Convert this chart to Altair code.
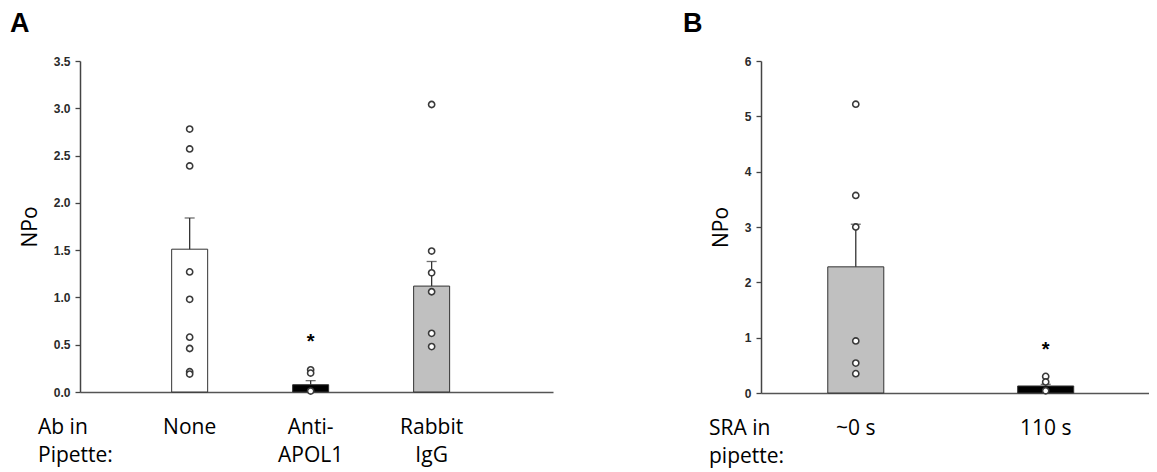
import altair as alt
import pandas as pd

# ---------------- Panel A data ----------------
a_groups = ["None", "Anti-APOL1", "Rabbit IgG"]
a_labels = ["None", "Anti-\nAPOL1", "Rabbit\nIgG"]
a_means = [1.51, 0.077, 1.12]
a_sems = [0.33, 0.043, 0.26]
a_fills = ["#ffffff", "#000000", "#c0c0c0"]
a_pts_none = [2.78, 2.57, 2.39, 1.27, 0.98, 0.58, 0.46, 0.215, 0.19]
a_pts_anti = [0.235, 0.20, 0.01]
a_pts_igg = [3.04, 1.49, 1.26, 1.06, 0.62, 0.48]
a_star_group = ["Anti-APOL1"]
a_star_y = [0.58]
a_yticks = [0.0, 0.5, 1.0, 1.5, 2.0, 2.5, 3.0, 3.5]

# ---------------- Panel B data ----------------
b_groups = ["~0 s", "110 s"]
b_labels = ["~0 s", "110 s"]
b_means = [2.28, 0.127]
b_sems = [0.77, 0.03]
b_fills = ["#c0c0c0", "#000000"]
b_pts_zero = [5.22, 3.57, 3.0, 0.94, 0.54, 0.35]
b_pts_110 = [0.30, 0.20, 0.04]
b_star_group = ["110 s"]
b_star_y = [0.87]
b_yticks = [0, 1, 2, 3, 4, 5, 6]

TEXT_FONT = "Open Sans"


def panel(letter, groups, labels, means, sems, fills, pts, star_group, star_y,
          ydomain, yticks, yfmt, width, height, pi, po, align,
          left_label, left_x, letter_x):
    bars_df = pd.DataFrame({
        "group": groups, "label": labels, "mean": means,
        "upper": [m + s for m, s in zip(means, sems)], "fill": fills})
    pts_df = pd.DataFrame([{"group": g, "mean": v} for g, vals in zip(groups, pts) for v in vals])
    star_df = pd.DataFrame({"group": star_group, "mean": star_y})

    xenc = alt.X("group:N", sort=groups,
                 scale=alt.Scale(domain=groups, paddingInner=pi, paddingOuter=po, align=align),
                 axis=alt.Axis(title=None, labels=False, ticks=False,
                               domainColor="#555", domainWidth=1.5))
    yaxis = alt.Axis(title="NPo", values=yticks, format=yfmt, grid=False,
                     titlePadding=13)
    yscale = alt.Scale(domain=ydomain, nice=False)

    def Y(field):
        return alt.Y(field + ":Q", scale=yscale, axis=yaxis)

    base = alt.Chart(bars_df)
    bars = base.mark_bar(stroke="#333", strokeWidth=1).encode(
        x=xenc, y=Y("mean"), fill=alt.Fill("fill:N", scale=None))
    err = base.mark_rule(color="#333", strokeWidth=1.3).encode(
        x=xenc, y=Y("mean"), y2="upper")
    cap = base.mark_tick(color="#333", thickness=1.3, size=10).encode(
        x=xenc, y=Y("upper"))
    points = alt.Chart(pts_df).mark_point(
        shape="circle", fill="white", stroke="#3a3a3a", strokeWidth=1.6,
        size=38, opacity=1, fillOpacity=1).encode(x=xenc, y=Y("mean"))
    star = alt.Chart(star_df).mark_text(
        text="*", font="Liberation Sans", fontWeight="bold", fontSize=20,
        baseline="middle", dy=5, color="black").encode(x=xenc, y=Y("mean"))
    cat_labels = base.mark_text(
        font=TEXT_FONT, fontSize=21, lineBreak="\n", lineHeight=28,
        baseline="alphabetic", color="black").encode(
        x=xenc, y=alt.value(height + 42), text="label:N")
    side = alt.Chart(pd.DataFrame({"t": [left_label]})).mark_text(
        font=TEXT_FONT, fontSize=21, lineBreak="\n", lineHeight=28,
        baseline="alphabetic", align="left", color="black").encode(
        x=alt.value(left_x), y=alt.value(height + 42), text="t:N")
    let = alt.Chart(pd.DataFrame({"t": [letter]})).mark_text(
        font="Liberation Sans", fontWeight="bold", fontSize=27,
        baseline="alphabetic", align="left", color="black").encode(
        x=alt.value(letter_x), y=alt.value(-29), text="t:N")

    return alt.layer(bars, err, cap, points, star, cat_labels, side, let).properties(
        width=width, height=height)


panel_a = panel("A", a_groups, a_labels, a_means, a_sems, a_fills,
                [a_pts_none, a_pts_anti, a_pts_igg], a_star_group, a_star_y,
                [0, 3.5], a_yticks, ".1f", 473, 331, 0.7025, 0.806, 0.47,
                "Ab in\nPipette:", -42, -70)

panel_b = panel("B", b_groups, b_labels, b_means, b_sems, b_fills,
                [b_pts_zero, b_pts_110], b_star_group, b_star_y,
                [0, 6], b_yticks, "d", 388, 332, 0.705, 0.374, 0.47,
                "SRA in\npipette:", -52, -78)

chart = alt.hconcat(panel_a, panel_b, spacing=208, bounds="flush").properties(
    padding={"left": 2, "top": 2, "right": 0, "bottom": 4}
).configure_view(stroke=None).configure_axis(
    labelFont="Liberation Sans", labelFontWeight="bold", labelFontSize=12,
    labelColor="#2a2a2a", labelPadding=5, tickColor="#444", tickSize=5,
    tickWidth=1.3, domainColor="#444", domainWidth=1.5,
    titleFont=TEXT_FONT, titleFontSize=21, titleFontWeight="normal",
    titleColor="black"
)

chart.save("out.html", embed_options={"renderer": "svg", "actions": False})
